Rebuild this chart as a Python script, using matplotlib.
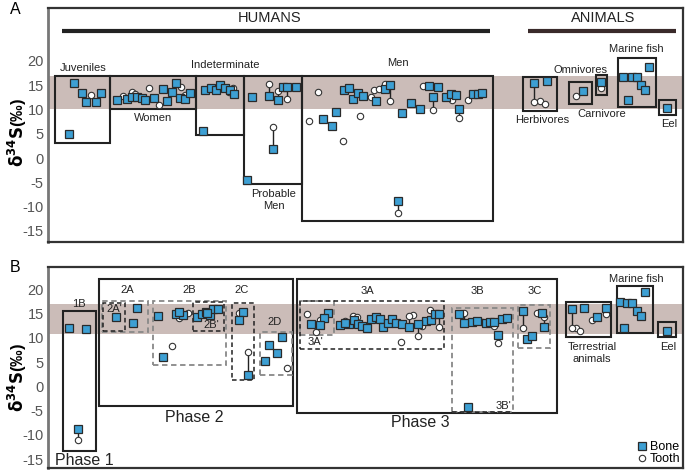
import matplotlib
matplotlib.use("Agg")
import matplotlib.pyplot as plt
from matplotlib.patches import Rectangle
from matplotlib.lines import Line2D

plt.rcParams["font.family"] = ["Liberation Sans", "DejaVu Sans"]
plt.rcParams["mathtext.fontset"] = "dejavusans"

# ---------------- DATA (x = position along the group axis, y = d34S permil) ----------------
# Panel A
A_bone_x = [74, 82, 86, 96, 101, 69,
            117, 127, 132, 137, 142, 145, 154, 163, 167, 172, 176, 180, 185, 190,
            205, 211, 216, 220, 225, 230, 234, 203,
            252, 283, 296, 247,
            323, 332, 336, 344, 349, 353, 358, 363, 376, 385, 402, 411, 420, 429, 438,
            446, 451, 456, 473, 478, 482,
            547, 583, 623, 632, 637, 641, 645, 649, 628, 667]
A_bone_y = [15.5, 13.3, 11.6, 11.6, 13.3, 4.9,
            12.0, 12.2, 12.6, 12.6, 12.4, 12.0, 12.4, 14.2, 11.8, 13.6, 15.5, 12.4, 12.2, 13.4,
            14.0, 14.4, 14.0, 15.1, 14.4, 14.0, 13.2, 5.6,
            12.6, 14.6, 14.6, -4.5,
            8.0, 6.5, 9.5, 14.0, 14.4, 12.2, 13.4, 12.8, 11.8, 14.2, 9.2, 11.4, 10.0, 14.9, 14.6,
            12.6, 13.2, 12.9, 13.2, 13.2, 13.4,
            15.9, 13.8, 16.6, 16.6, 16.6, 15.1, 14.0, 18.8, 12.0, 10.4]
A_tooth_x = [91, 123, 132, 135, 149, 159, 181, 185, 229, 233,
             318, 309, 343, 360, 371, 374, 379, 385, 423, 452, 468,
             540, 545, 576]
A_tooth_y = [13.0, 12.8, 13.6, 13.2, 14.4, 10.9, 14.6, 13.0, 13.6, 14.4,
             13.5, 7.7, 3.5, 8.7, 12.5, 14.0, 14.2, 15.2, 14.8, 12.0, 12.0,
             11.8, 11.1, 12.8]
A_pair_x = [269, 278, 287, 273, 390, 433, 459, 398, 534, 601]
A_pair_bone = [12.8, 12.0, 14.6, 1.9, 15.1, 12.5, 10.0, -8.9, 15.4, 15.7]
A_pair_tooth = [15.3, 13.8, 12.2, 6.4, 11.8, 9.9, 8.3, -11.4, 11.6, 14.4]

# Panel B
B_bone_x = [69, 86,
            116, 137, 133,
            158, 176, 183, 163,
            197, 202, 206, 210, 213, 218, 207,
            243,
            282, 269, 277, 265,
            311, 328, 324,
            340, 349, 354, 358, 362, 367, 371, 376, 380, 383, 388, 392, 396, 402, 426, 431, 435,
            459, 472, 477, 486, 490, 502, 507, 468,
            527, 532, 542,
            584, 597, 620, 627, 632, 637, 641, 645, 624, 667]
B_bone_y = [12.1, 11.8,
            14.2, 16.1, 13.0,
            14.5, 14.9, 14.7, 6.1,
            14.3, 14.9, 15.3, 14.7, 16.0, 16.0, 15.1,
            15.3,
            10.1, 8.6, 6.8, 5.3,
            12.9, 15.2, 14.1,
            12.7, 12.8, 13.6, 12.8, 12.5, 12.1, 13.9, 14.2, 13.9, 12.3, 13.0, 13.9, 13.0, 12.8, 13.5, 13.6, 14.9,
            14.9, 13.2, 13.5, 13.0, 13.2, 13.9, 14.1, -4.2,
            9.7, 10.4, 15.2,
            16.2, 14.3, 17.4, 17.2, 17.2, 15.6, 14.5, 19.4, 12.1, 11.5]
B_tooth_x = [188, 172, 287, 307, 316, 353, 357, 375, 401, 413, 422, 430, 482, 537, 576, 580, 592]
B_tooth_y = [15.1, 8.4, 3.9, 14.9, 11.3, 14.5, 14.4, 14.4, 9.2, 14.7, 12.5, 15.8, 13.2, 15.2, 12.0, 11.5, 13.6]
B_pair_x = [78, 179, 239, 248, 320, 345, 409, 418, 439, 464, 494, 498, 523, 544, 572, 606]
B_pair_bone = [-8.8, 15.4, 13.7, 2.4, 12.7, 13.0, 12.3, 12.8, 14.9, 13.0, 13.2, 10.5, 15.6, 12.3, 15.9, 16.2]
B_pair_tooth = [-11.0, 14.1, 15.1, 7.0, 13.6, 13.4, 14.5, 10.4, 12.3, 15.2, 12.5, 8.9, 12.0, 14.3, 12.1, 14.9]

# Group boxes (x0, x1, y0, y1)
A_boxes = [(55, 110, 3.1, 16.9), (110, 196, 10.0, 16.9), (196, 244, 4.7, 16.9),
           (244, 302, -5.4, 16.9), (302, 493, -12.9, 16.9),
           (523, 557, 9.7, 16.6), (569, 592, 11.1, 15.7), (596, 607, 13.0, 17.1),
           (618, 656, 10.6, 20.6), (659, 676, 8.9, 12.0)]
B_boxes = [(63, 96, -13.2, 15.6), (99, 293, -4.0, 22.1), (297, 557, -5.5, 22.1),
           (566, 611, 10.1, 17.4), (617, 653, 11.1, 20.7), (658, 676, 10.1, 13.2)]
B_dashed_gray = [(102, 148, 11.2, 17.7), (153, 226, 4.4, 17.6), (260, 292, 2.4, 11.2),
                 (300, 334, 10.5, 17.5), (452, 513, -5.2, 16.1), (518, 550, 8.0, 16.7)]
B_dashed_dark = [(103, 125, 11.5, 17.2), (193, 224, 11.5, 17.3), (232, 254, 1.3, 17.2),
                 (300, 444, 7.7, 17.5)]

yticks = [20, 15, 10, 5, 0, -5, -10, -15]

BLUE = "#3d9fd3"
EDGE = "#2a2a2a"
BAND = "#cbbcb8"

fig = plt.figure(figsize=(6.85, 4.70), dpi=100)
W, H = 685, 470


def make_ax(top, bottom):
    return fig.add_axes([48 / W, 1 - bottom / H, (683 - 48) / W, (bottom - top) / H])


axA = make_ax(8, 242)
axB = make_ax(267, 468)


def style(ax, ylim, band):
    ax.set_xlim(48, 683)
    ax.set_ylim(*ylim)
    ax.axhspan(band[0], band[1], color=BAND, zorder=0, lw=0)
    ax.set_xticks([])
    ax.set_yticks(yticks)
    ax.set_yticklabels([str(t) for t in yticks], fontsize=10.5, color="#555555")
    ax.tick_params(axis="y", length=0, pad=3)
    for s in ax.spines.values():
        s.set_color("#333333")
        s.set_linewidth(1.6)
    ax.spines["left"].set_color("#777777")
    ax.spines["left"].set_linewidth(2)
    ax.set_ylabel(r"$\mathbf{\delta^{34}S}$(‰)", fontsize=12, fontweight="bold")


def draw_points(ax, bx, by, tx, ty, px, pb, pt):
    for x, b, t in zip(px, pb, pt):
        ax.plot([x, x], [b, t], color="#222222", lw=1.0, zorder=3)
    ax.plot(tx + px, ty + pt, "o", ms=4.6, mfc="white", mec="#333333", mew=0.8, ls="none", zorder=4)
    ax.plot(bx + px, by + pb, "s", ms=5.2, mfc=BLUE, mec=EDGE, mew=0.9, ls="none", zorder=5)


def draw_boxes(ax, boxes, color, ls, lw):
    for x0, x1, y0, y1 in boxes:
        ax.add_patch(Rectangle((x0, y0), x1 - x0, y1 - y0, fill=False, ec=color, ls=ls, lw=lw, zorder=2))


style(axA, (-17.3, 30.9), (10.0, 16.9))
style(axB, (-16.8, 24.6), (10.7, 17.0))
axA.yaxis.set_label_coords(-0.03, 0.47)
axB.yaxis.set_label_coords(-0.03, 0.45)

draw_boxes(axA, A_boxes, "#222222", "-", 1.5)
draw_points(axA, A_bone_x, A_bone_y, A_tooth_x, A_tooth_y, A_pair_x, A_pair_bone, A_pair_tooth)

draw_boxes(axB, B_boxes, "#222222", "-", 1.5)
draw_boxes(axB, B_dashed_gray, "#888888", (0, (3, 2)), 1.3)
draw_boxes(axB, B_dashed_dark, "#222222", (0, (3, 2)), 1.1)
axB.plot([452, 513], [-5.2, -5.2], color="#222222", ls=(0, (3, 2)), lw=1.1, zorder=2)
draw_points(axB, B_bone_x, B_bone_y, B_tooth_x, B_tooth_y, B_pair_x, B_pair_bone, B_pair_tooth)

TC = "#222222"
fs = 8
# Panel A annotations
axA.text(270, 28.9, "HUMANS", ha="center", va="center", fontsize=10.5, color=TC)
axA.text(603, 28.9, "ANIMALS", ha="center", va="center", fontsize=10.5, color=TC)
axA.plot([62, 490], [26.2, 26.2], color="#222222", lw=3, solid_capstyle="butt")
axA.plot([528, 676], [26.2, 26.2], color="#3a2a2a", lw=3, solid_capstyle="butt")
for txt, x, y in [("Juveniles", 83, 18.6), ("Women", 153, 8.2), ("Indeterminate", 225, 19.2),
                  ("Probable\nMen", 274, -8.6), ("Men", 398, 19.6), ("Herbivores", 542, 7.8),
                  ("Omnivores", 581, 18.1), ("Carnivore", 602, 9.0), ("Marine fish", 636, 22.5),
                  ("Eel", 669, 7.0)]:
    axA.text(x, y, txt, ha="center", va="center", fontsize=fs, color=TC, linespacing=1.2)

# Panel B annotations
for txt, x, y in [("1B", 79, 17.0), ("2A", 127, 19.8), ("2B", 189, 19.8), ("2C", 242, 19.8),
                  ("2D", 275, 13.2), ("3A", 367, 19.6), ("3B", 477, 19.6), ("3C", 535, 19.6),
                  ("2A'", 114, 16.0), ("2B'", 211, 12.7), ("3A'", 315, 9.2), ("3B'", 503, -4.0),
                  ("Marine fish", 636, 22.2), ("Terrestrial\nanimals", 592, 6.9), ("Eel", 668, 8.1)]:
    axB.text(x, y, txt, ha="center", va="center", fontsize=fs, color=TC, linespacing=1.3)
axB.text(55, -15.3, "Phase 1", ha="left", va="center", fontsize=11.5, color=TC)
axB.text(194, -6.3, "Phase 2", ha="center", va="center", fontsize=11.5, color=TC)
axB.text(420, -7.4, "Phase 3", ha="center", va="center", fontsize=11.5, color=TC)

handles = [Line2D([], [], marker="s", ls="none", ms=5.2, mfc=BLUE, mec=EDGE, mew=0.9),
           Line2D([], [], marker="o", ls="none", ms=4.6, mfc="white", mec="#333333", mew=0.8)]
axB.legend(handles, ["Bone", "Tooth"], loc="lower right", frameon=False, fontsize=9,
           handlelength=0.6, handletextpad=0.3, labelspacing=0.05, borderaxespad=0.1,
           borderpad=0.1)

fig.text(10 / W, 1 - 9 / H, "A", fontsize=11.5, ha="left", va="center")
fig.text(10 / W, 1 - 267 / H, "B", fontsize=11.5, ha="left", va="center")

fig.savefig("out.png", dpi=100)
